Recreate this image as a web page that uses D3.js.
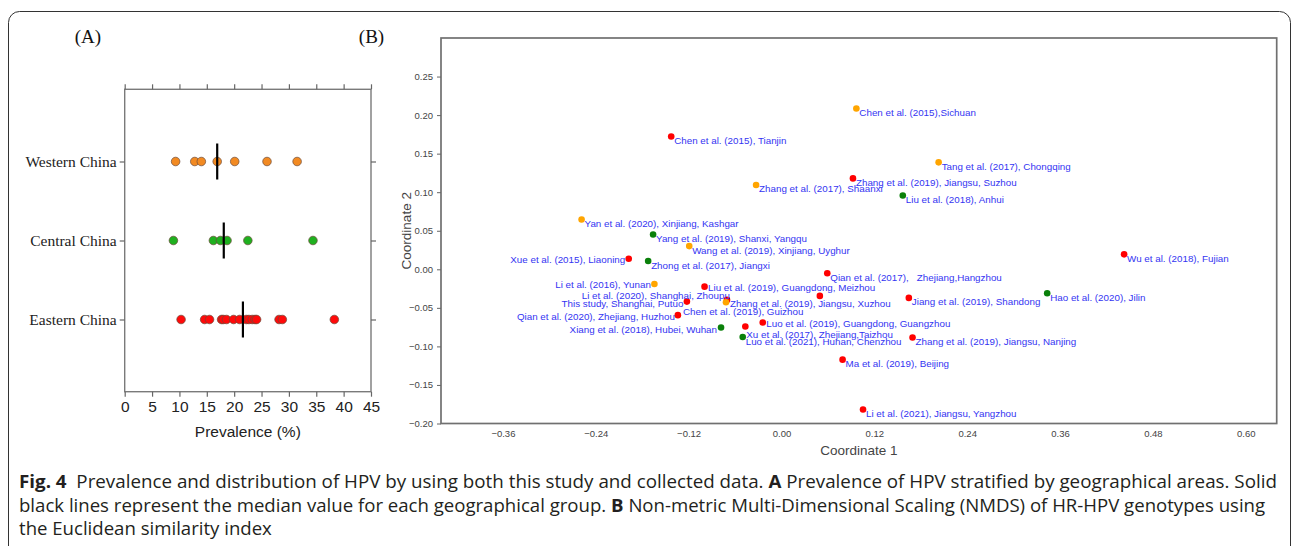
<!DOCTYPE html>
<html><head><meta charset="utf-8">
<script src="https://cdn.jsdelivr.net/npm/d3@7"></script>
<style>body{margin:0;background:#fff} svg{display:block}</style>
</head><body>
<svg id="c" width="1292" height="546"></svg>
<script>
// ---------- Panel A data ----------
const regions = ["Western China", "Central China", "Eastern China"];
const westernPrev = [9.3, 12.8, 14.0, 16.9, 20.1, 26.0, 31.5];
const centralPrev = [8.9, 16.2, 17.5, 18.7, 22.5, 34.4];
const easternPrev = [10.3, 14.6, 15.5, 17.7, 18.0, 18.6, 19.9, 21.0, 22.2, 22.7, 23.3, 23.8, 24.1, 28.2, 28.8, 38.3];
const prevTicks = [0, 5, 10, 15, 20, 25, 30, 35, 40, 45];

// ---------- Panel B data ----------
const studies = [
  "Chen et al. (2015), Tianjin",
  "Chen et al. (2015),Sichuan",
  "Tang et al. (2017), Chongqing",
  "Zhang et al. (2019), Jiangsu, Suzhou",
  "Zhang et al. (2017), Shaanxi",
  "Liu et al. (2018), Anhui",
  "Yan et al. (2020), Xinjiang, Kashgar",
  "Yang et al. (2019), Shanxi, Yangqu",
  "Wang et al. (2019), Xinjiang, Uyghur",
  "Xue et al. (2015), Liaoning",
  "Zhong et al. (2017), Jiangxi",
  "Wu et al. (2018), Fujian",
  "Qian et al. (2017),   Zhejiang,Hangzhou",
  "Li et al. (2016), Yunan",
  "Liu et al. (2019), Guangdong, Meizhou",
  "Li et al. (2020), Shanghai, Zhoupu",
  "This study, Shanghai, Putuo",
  "Zhang et al. (2019), Jiangsu, Xuzhou",
  "Chen et al. (2019), Guizhou",
  "Jiang et al. (2019), Shandong",
  "Hao et al. (2020), Jilin",
  "Qian et al. (2020), Zhejiang, Huzhou",
  "Luo et al. (2019), Guangdong, Guangzhou",
  "Xiang et al. (2018), Hubei, Wuhan",
  "Xu et al. (2017), Zhejiang,Taizhou",
  "Luo et al. (2021), Hunan, Chenzhou",
  "Zhang et al. (2019), Jiangsu, Nanjing",
  "Ma et al. (2019), Beijing",
  "Li et al. (2021), Jiangsu, Yangzhou"
];
const coord1 = [-0.1425, 0.0968, 0.2031, 0.0924, -0.0328, 0.1568, -0.2583, -0.1659, -0.1192, -0.1974,
  -0.1723, 0.4428, 0.0592, -0.1642, -0.0994, 0.0496, -0.1222, -0.0704, -0.0717, 0.1646,
  0.3434, -0.1339, -0.0242, -0.0781, -0.0467, -0.0501, 0.1694, 0.0790, 0.1054];
const coord2 = [0.1723, 0.2085, 0.1387, 0.1179, 0.1094, 0.0957, 0.0646, 0.0452, 0.0301, 0.0137,
  0.0107, 0.0194, -0.0052, -0.0190, -0.0225, -0.0345, -0.0419, -0.0397, -0.0427, -0.0371,
  -0.0310, -0.0595, -0.0690, -0.0755, -0.0742, -0.0879, -0.0884, -0.1172, -0.1819];
const studyRegion = ["E","W","W","E","W","C","W","C","W","E",
  "C","E","E","W","E","E","E","E","W","E",
  "C","E","E","C","E","C","E","E","E"];
const coord1Ticks = [-0.36, -0.24, -0.12, 0.00, 0.12, 0.24, 0.36, 0.48, 0.60];
const coord2Ticks = [-0.20, -0.15, -0.10, -0.05, 0.00, 0.05, 0.10, 0.15, 0.20, 0.25];

// ---------- styles / layout ----------
const colA = {"Western China": "#f28a22", "Central China": "#1fb01f", "Eastern China": "#ff0a0a"};
const colB = {W: "#ffa500", C: "#0a800a", E: "#ff0000"};
// label nudges [dx, dy, anchor] in px
const labelDefault = [3, 7.5, "start"];
const labelNudge = {
  "Xue et al. (2015), Liaoning": [-3.5, 4.5, "end"],
  "Li et al. (2016), Yunan": [-3.5, 4.5, "end"],
  "This study, Shanghai, Putuo": [-3.5, 5, "end"],
  "Qian et al. (2020), Zhejiang, Huzhou": [-3, 5, "end"],
  "Xiang et al. (2018), Hubei, Wuhan": [-4, 5, "end"],
  "Liu et al. (2019), Guangdong, Meizhou": [3.5, 4.5, "start"],
  "Luo et al. (2019), Guangdong, Guangzhou": [3.5, 4.5, "start"],
  "Xu et al. (2017), Zhejiang,Taizhou": [1, 11, "start"],
  "Chen et al. (2019), Guizhou": [-43, 13, "start"],
  "Li et al. (2020), Shanghai, Zhoupu": [-90, 3, "end"]
};

const svg = d3.select("#c");

// outer frame
svg.append("rect").attr("x", 8.5).attr("y", 11.5).attr("width", 1282).attr("height", 600)
  .attr("rx", 11).attr("fill", "none").attr("stroke", "#333").attr("stroke-width", 1);

// ================= Panel A =================
const A = {l: 124.7, r: 371, t: 89.3, b: 391.7};
const xA = d3.scaleLinear().domain([0, 45]).range([A.l, A.r]);
const yA = d3.scalePoint().domain(regions).range([A.t, A.b]).padding(0.914);
const gA = svg.append("g");
gA.append("rect").attr("x", A.l).attr("y", A.t).attr("width", A.r - A.l).attr("height", A.b - A.t)
  .attr("fill", "none").attr("stroke", "#7a7a7a").attr("stroke-width", 1.4);

const axB = gA.append("g").attr("transform", `translate(0,${A.b})`)
  .call(d3.axisBottom(xA).tickValues(prevTicks).tickSize(5).tickPadding(4).tickFormat(d3.format("d")));
const axT = gA.append("g").attr("transform", `translate(0,${A.t})`)
  .call(d3.axisTop(xA).tickValues(prevTicks).tickSize(5).tickFormat(""));
const axL = gA.append("g").attr("transform", `translate(${A.l},0)`)
  .call(d3.axisLeft(yA).tickSize(5).tickPadding(3));
const axR = gA.append("g").attr("transform", `translate(${A.r},0)`)
  .call(d3.axisRight(yA).tickSize(5).tickFormat(""));
[axB, axT, axL, axR].forEach(a => {
  a.select(".domain").remove();
  a.selectAll(".tick line").attr("stroke", "#666").attr("stroke-width", 1.2);
});
axB.selectAll("text").attr("font-family", "Liberation Sans, Arial, sans-serif").attr("font-size", 15.5).attr("fill", "#222");
axL.selectAll("text").attr("font-family", "Liberation Serif, Times New Roman, serif").attr("font-size", 15.5).attr("fill", "#222");

gA.append("text").attr("x", (A.l + A.r) / 2).attr("y", 437).attr("text-anchor", "middle")
  .attr("font-family", "Liberation Sans, Arial, sans-serif").attr("font-size", 15.5).attr("fill", "#222")
  .text("Prevalence (%)");

const groups = [westernPrev, centralPrev, easternPrev];
regions.forEach((reg, i) => {
  const vals = groups[i];
  gA.append("g").selectAll("circle").data(vals).join("circle")
    .attr("cx", d => xA(d)).attr("cy", yA(reg)).attr("r", 4.3)
    .attr("fill", colA[reg]).attr("stroke", "#6b4a3a").attr("stroke-width", 0.7);
  const med = d3.median(vals);
  gA.append("line").attr("x1", xA(med)).attr("x2", xA(med))
    .attr("y1", yA(reg) - 18).attr("y2", yA(reg) + 18)
    .attr("stroke", "#000").attr("stroke-width", 2.2);
});

svg.append("text").attr("x", 88).attr("y", 43).attr("text-anchor", "middle")
  .attr("font-family", "Liberation Serif, Times New Roman, serif").attr("font-size", 19).attr("fill", "#111").text("(A)");
svg.append("text").attr("x", 371.5).attr("y", 43).attr("text-anchor", "middle")
  .attr("font-family", "Liberation Serif, Times New Roman, serif").attr("font-size", 19).attr("fill", "#111").text("(B)");

// ================= Panel B =================
const B = {l: 441, r: 1276.7, t: 38, b: 423.5};
const xB = d3.scaleLinear().domain([-0.44, 0.64]).range([B.l, B.r]);
const yB = d3.scaleLinear().domain([-0.20, 0.30]).range([B.b, B.t]);
const gB = svg.append("g");
gB.append("rect").attr("x", B.l).attr("y", B.t).attr("width", B.r - B.l).attr("height", B.b - B.t)
  .attr("fill", "none").attr("stroke", "#707070").attr("stroke-width", 1.7);

const fB = "Liberation Sans, Arial, sans-serif";
const ayB = gB.append("g").attr("transform", `translate(${B.l},0)`)
  .call(d3.axisLeft(yB).tickValues(coord2Ticks).tickSize(4).tickPadding(4).tickFormat(d3.format(".2f")));
const axBB = gB.append("g").attr("transform", `translate(0,${B.b})`)
  .call(d3.axisBottom(xB).tickValues(coord1Ticks).tickSize(0).tickPadding(7).tickFormat(d3.format(".2f")));
[ayB, axBB].forEach(a => {
  a.select(".domain").remove();
  a.selectAll(".tick line").attr("stroke", "#666");
  a.selectAll("text").attr("font-family", fB).attr("font-size", 9.5).attr("fill", "#444");
});
gB.append("text").attr("x", (B.l + B.r) / 2).attr("y", 455).attr("text-anchor", "middle")
  .attr("font-family", fB).attr("font-size", 13.5).attr("fill", "#444").text("Coordinate 1");
gB.append("text").attr("transform", `translate(411,${(B.t + B.b) / 2}) rotate(-90)`).attr("text-anchor", "middle")
  .attr("font-family", fB).attr("font-size", 13.5).attr("fill", "#444").text("Coordinate 2");

const pts = studies.map((s, i) => ({name: s, x: coord1[i], y: coord2[i], reg: studyRegion[i]}));
gB.append("g").selectAll("circle").data(pts).join("circle")
  .attr("cx", d => xB(d.x)).attr("cy", d => yB(d.y)).attr("r", 3.3)
  .attr("fill", d => colB[d.reg]);
gB.append("g").selectAll("text").data(pts).join("text")
  .attr("x", d => xB(d.x) + (labelNudge[d.name] || labelDefault)[0])
  .attr("y", d => yB(d.y) + (labelNudge[d.name] || labelDefault)[1])
  .attr("text-anchor", d => (labelNudge[d.name] || labelDefault)[2])
  .attr("font-family", fB).attr("font-size", 9.8).attr("fill", "#3434f2")
  .style("white-space", "pre")
  .text(d => d.name);

// ================= Caption =================
const capLines = [
  {w: 1259, parts: [["Fig. 4", true], ["  Prevalence and distribution of HPV by using both this study and collected data. ", false], ["A", true], [" Prevalence of HPV stratified by geographical areas. Solid", false]]},
  {w: 1247, parts: [["black lines represent the median value for each geographical group. ", false], ["B", true], [" Non-metric Multi-Dimensional Scaling (NMDS) of HR-HPV genotypes using", false]]},
  {w: 253, parts: [["the Euclidean similarity index", false]]}
];
const capY = [488, 511.5, 535];
capLines.forEach((ln, i) => {
  const g = svg.append("g");
  const t = g.append("text").attr("x", 0).attr("y", 0)
    .attr("font-family", "Open Sans, Noto Sans, sans-serif").attr("font-size", 17.5).attr("fill", "#231f20")
    .style("white-space", "pre");
  ln.parts.forEach(p => t.append("tspan").attr("font-weight", p[1] ? "bold" : "normal").text(p[0]));
  const len = t.node().getComputedTextLength();
  g.attr("transform", `translate(19,${capY[i]}) scale(${ln.w / len},1)`);
});
</script>
</body></html>
